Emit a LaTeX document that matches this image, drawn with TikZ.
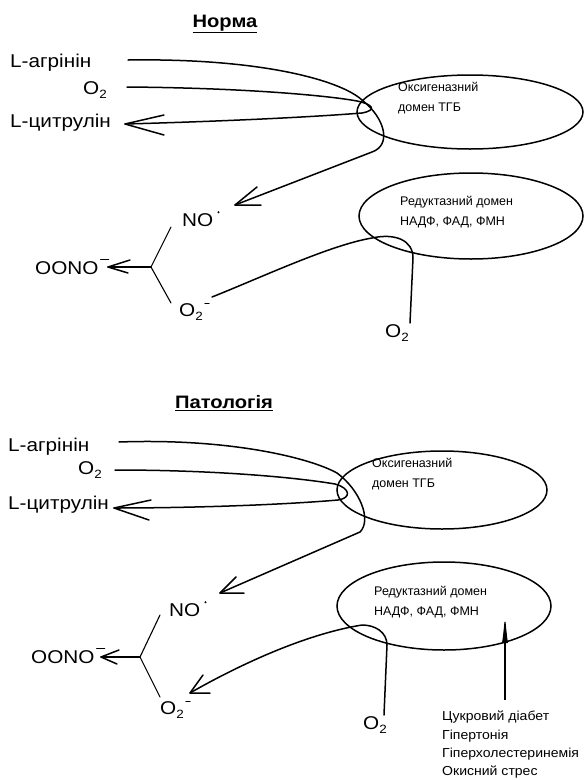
\documentclass[tikz,border=0pt]{standalone}
\usepackage{fontspec}
\setmainfont{Liberation Sans}
\usetikzlibrary{arrows.meta}
\newcommand{\wid}[1]{\scalebox{1.12}[1]{#1}}
\newcommand{\dwid}[1]{\scalebox{1.08}[1]{#1}}
\newcommand{\lsub}[1]{\raisebox{-0.35ex}{\fontsize{12}{13}\selectfont #1}}
\tikzset{
  lbl/.style={inner sep=0pt, font=\fontsize{18.5}{20}\selectfont},
  small/.style={inner sep=0pt, font=\fontsize{12.5}{20}\selectfont, align=left, anchor=west},
  ttl/.style={inner sep=0pt, font=\bfseries\fontsize{18}{20}\selectfont},
  curve/.style={line width=1.5pt, line cap=round, line join=round},
  thin/.style={line width=1.1pt, line cap=round},
  oval/.style={line width=1.5pt}
}
\begin{document}
\begin{tikzpicture}[x=1pt,y=-1pt]
\useasboundingbox (0,0) rectangle (584,780);
% ================= Norma =================
\node[ttl] (t1) at (225,24) {\underline{\wid{Норма}}};
\node[lbl,anchor=west] (arg1) at (10,63) {\wid{L-агрінін}};
\node[lbl,anchor=east] (oa1) at (107,90) {\wid{O\lsub{2}}};
\node[lbl,anchor=west] (cit1) at (10,123) {\wid{L-цитрулін}};
\draw[oval] (470,112) ellipse [x radius=113, y radius=37];
\node[small] (ox1) at (398,98) {Оксигеназний\\домен ТГБ};
\draw[oval] (471,216) ellipse [x radius=112, y radius=43];
\node[small] (red1) at (400,212) {Редуктазний домен\\НАДФ, ФАД, ФМН};
\node[lbl,anchor=west] (no1) at (182,220) {\wid{NO}};
\fill (no1.north east) ++(5,-1) circle (1.2);
\node[lbl,anchor=west] (oono1) at (35,268) {\wid{OONO}};
\draw[thin] ([xshift=2pt,yshift=2pt]oono1.north east) -- ++(8,0);
\node[lbl,anchor=west] (om1) at (179,312) {\wid{O\lsub{2}}};
\draw[thin] ([xshift=2pt,yshift=0pt]om1.north east) -- ++(4,0);
\node[lbl,anchor=west] (ob1) at (385,333) {\wid{O\lsub{2}}};
% curves
\coordinate (a1s) at (128,60);
\coordinate (no1t) at (235,205);
\draw[curve] (a1s) .. controls (260,58) and (340,80) .. (362,100)
  .. controls (385,118) and (392,145) .. (372,152) -- (no1t);
\draw[curve] (no1t) -- (257,187) (no1t) -- (261,205);
\coordinate (o1s) at (127,87);
\coordinate (c1t) at (125,124);
\draw[curve] (o1s) .. controls (250,88) and (330,96) .. (357,101)
  .. controls (372,104) and (378,110) .. (362,113)
  .. controls (300,118) and (200,122) .. (c1t);
\draw[curve] (c1t) -- (164,115) (c1t) -- (164,135);
\coordinate (f1a) at (171,227);
\coordinate (f1m) at (151,267);
\coordinate (f1b) at (171,303);
\coordinate (oo1t) at (108,267);
\draw[thin] (f1a) -- (f1m) -- (f1b);
\draw[curve] (f1m) -- (oo1t);
\draw[curve] (oo1t) -- (130,260) (oo1t) -- (128,273);
\coordinate (om1s) at (212,297);
\coordinate (ob1s) at (410,323);
\draw[curve] (om1s) .. controls (260,278) and (330,245) .. (372,238)
  .. controls (395,233) and (413,240) .. (413,258) -- (ob1s);
% ================= Patologia =================
\node[ttl] (t2) at (224,403) {\underline{\wid{Патологія}}};
\node[lbl,anchor=west] (arg2) at (8,447) {\wid{L-агрінін}};
\node[lbl,anchor=east] (oa2) at (102,470) {\wid{O\lsub{2}}};
\node[lbl,anchor=west] (cit2) at (8,505) {\wid{L-цитрулін}};
\draw[oval] (442,490) ellipse [x radius=105, y radius=39];
\node[small] (ox2) at (372,474) {Оксигеназний\\домен ТГБ};
\draw[oval] (444,606) ellipse [x radius=107, y radius=44];
\node[small] (red2) at (374,602) {Редуктазний домен\\НАДФ, ФАД, ФМН};
\node[lbl,anchor=west] (no2) at (169,610) {\wid{NO}};
\fill (no2.north east) ++(5,-1) circle (1.2);
\node[lbl,anchor=west] (oono2) at (31,657) {\wid{OONO}};
\draw[thin] ([xshift=2pt,yshift=2pt]oono2.north east) -- ++(8,0);
\node[lbl,anchor=west] (om2) at (160,710) {\wid{O\lsub{2}}};
\draw[thin] ([xshift=2pt,yshift=0pt]om2.north east) -- ++(4,0);
\node[lbl,anchor=west] (ob2) at (363,725) {\wid{O\lsub{2}}};
\node[inner sep=0pt, anchor=north west, align=left, font=\fontsize{13}{18.3}\selectfont] (dis) at (442,711)
  {\dwid{Цукровий діабет}\\\dwid{Гіпертонія}\\\dwid{Гіперхолестеринемія}\\\dwid{Окисний стрес}};
\coordinate (a2s) at (119,442);
\coordinate (no2t) at (220,593);
\draw[curve] (a2s) .. controls (230,438) and (310,458) .. (337,473)
  .. controls (360,490) and (372,520) .. (360,532) -- (no2t);
\draw[curve] (no2t) -- (236,577) (no2t) -- (244,593);
\coordinate (o2s) at (115,470);
\coordinate (c2t) at (114,508);
\draw[curve] (o2s) .. controls (220,470) and (300,478) .. (335,484)
  .. controls (350,488) and (352,498) .. (338,500)
  .. controls (280,505) and (190,508) .. (c2t);
\draw[curve] (c2t) -- (151,500) (c2t) -- (149,520);
\coordinate (f2a) at (160,615);
\coordinate (f2m) at (140,657);
\coordinate (f2b) at (160,697);
\coordinate (oo2t) at (101,657);
\draw[thin] (f2a) -- (f2m) -- (f2b);
\draw[curve] (f2m) -- (oo2t);
\draw[curve] (oo2t) -- (119,650) (oo2t) -- (117,664);
\coordinate (ob2s) at (384,715);
\coordinate (om2t) at (190,693);
\draw[curve] (ob2s) -- (387,645) .. controls (387,632) and (375,625) .. (362,625)
  .. controls (300,635) and (230,670) .. (om2t);
\draw[curve] (om2t) -- (203,675) (om2t) -- (210,693);
\coordinate (vb) at (505,700);
\coordinate (vt) at (505,613);
\draw[line width=1.2pt, -{Latex[length=30pt,width=6pt]}] (vb) -- (vt);
\end{tikzpicture}
\end{document}
